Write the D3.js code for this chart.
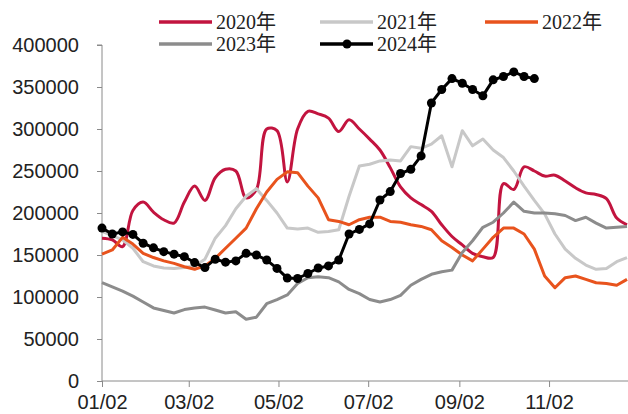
<!DOCTYPE html>
<html lang="zh">
<head>
<meta charset="UTF-8">
<title>2020-2024</title>
<script src="https://d3js.org/d3.v7.min.js"></script>
<style>
  body { margin: 0; background: #fff; }
  .axis path, .axis line { stroke: #8a8a8a; }
  .axis text { font-family: "Liberation Sans", Arial, sans-serif; font-size: 20px; fill: #222; }
  .legend text { font-family: "Liberation Serif", "Noto Sans CJK SC", serif; font-size: 20px; fill: #222; }
</style>
</head>
<body>
<div id="chart"></div>
<script>
// weekly values, first week starts 01/02
var series2020 = [170000,168000,160000,203000,213000,201000,192000,188000,213000,232000,
  215000,242000,252000,250000,218000,228000,300000,298000,237000,300000,
  321000,318000,313000,297000,311000,300000,288000,275000,254000,231000,
  218000,210000,202000,186000,172000,162000,152000,148000,147000,235000,
  228000,255000,250000,244000,245000,238000,230000,224000,222000,217000,
  194000,186000];
var series2021 = [178000,173000,168000,158000,142000,137000,134500,134000,135000,137000,
  145000,170000,185000,205000,220000,229000,215000,200000,182000,181000,
  182000,177000,178000,180000,220000,256000,258000,262000,263000,262000,
  279000,277000,282000,292000,255000,298000,280000,288000,275000,266000,
  250000,232000,215000,199000,175000,157000,146000,138000,133000,134000,
  142000,147000];
var series2022 = [151000,156000,171000,163000,152000,147000,143000,140000,136000,133000,
  137000,146000,158000,170000,182000,205000,225000,240000,249000,248000,
  232000,218000,192000,190000,186000,192000,195000,195000,190000,189000,
  186000,184000,180000,167000,159000,150000,143000,157000,171000,182000,
  182000,175000,157000,125000,111000,123000,125000,121000,117000,116000,
  114000,121000];
var series2023 = [117000,112000,107000,101000,94000,87000,84000,81000,85000,87000,
  88000,84500,81000,82500,73500,76000,92000,97000,102500,116000,
  123000,124000,123000,118000,109000,104000,97000,94000,97000,102000,
  114000,121000,127000,130000,132000,153000,167000,183000,189000,200000,
  213000,202000,200000,200000,199000,197000,191000,195000,188000,182000,
  183000,184000];
var series2024 = [182000,175000,177500,174500,164000,158500,154000,151000,148000,141000,
  135000,145000,141500,143000,152000,150000,144000,134000,122500,122000,
  128000,134500,137000,144000,175000,180500,187000,215500,225500,247000,
  252000,268000,331000,347000,360000,354500,347000,339500,358500,362500,
  368000,362500,360000];

var seriesNames = ["2020年", "2021年", "2022年", "2023年", "2024年"];
var seriesColors = ["#c2143f", "#c8c8c8", "#e8531d", "#8c8c8c", "#000000"];
var yTicks = [0, 50000, 100000, 150000, 200000, 250000, 300000, 350000, 400000];
var xTickLabels = ["01/02", "03/02", "05/02", "07/02", "09/02", "11/02"];

var width = 628, height = 414;
var parse = d3.timeParse("%Y/%m/%d");
var start = parse("2023/01/02");
var weekDate = function(i) { return d3.timeDay.offset(start, 7 * i); };

var svg = d3.select("#chart").append("svg")
  .attr("width", width)
  .attr("height", height);

var x = d3.scaleTime()
  .domain([start, weekDate(51)])
  .range([102, 627]);

var y = d3.scaleLinear()
  .domain([0, 400000])
  .range([381, 45]);

// axes
svg.append("g")
  .attr("class", "axis")
  .attr("transform", "translate(102,0)")
  .call(d3.axisLeft(y).tickValues(yTicks).tickSize(5).tickPadding(18).tickFormat(d3.format("d")))
  .call(function(g) { g.select(".domain").attr("d", "M-5," + y(400000) + "H0V" + y(0)); });

svg.append("g")
  .attr("class", "axis")
  .attr("transform", "translate(0,381)")
  .call(d3.axisBottom(x)
    .tickValues(xTickLabels.map(function(s) { return parse("2023/" + s); }))
    .tickFormat(d3.timeFormat("%m/%d"))
    .tickSize(6).tickPadding(8))
  .call(function(g) { g.select(".domain").attr("d", "M102,0H628"); });

var line = d3.line()
  .x(function(d, i) { return x(weekDate(i)); })
  .y(function(d) { return y(d); });

var allSeries = [series2020, series2021, series2022, series2023, series2024];

allSeries.forEach(function(data, k) {
  svg.append("path")
    .datum(data)
    .attr("fill", "none")
    .attr("stroke", seriesColors[k])
    .attr("stroke-width", 3)
    .attr("stroke-linejoin", "round")
    .attr("d", k === 0 ? line.curve(d3.curveCatmullRom)(data) : line.curve(d3.curveLinear)(data));
});

svg.append("g")
  .selectAll("circle")
  .data(series2024)
  .enter()
  .append("circle")
    .attr("cx", function(d, i) { return x(weekDate(i)); })
    .attr("cy", function(d) { return y(d); })
    .attr("r", 4.5)
    .style("fill", "#000");

// legend
var legendPos = [[159, 22], [320, 22], [485, 22], [159, 44], [320, 44]];
var legend = svg.append("g").attr("class", "legend");
seriesNames.forEach(function(name, k) {
  var p = legendPos[k];
  legend.append("line")
    .attr("x1", p[0]).attr("x2", p[0] + 53)
    .attr("y1", p[1]).attr("y2", p[1])
    .attr("stroke", seriesColors[k])
    .attr("stroke-width", 3.5);
  if (k === 4) {
    legend.append("circle").attr("cx", p[0] + 27).attr("cy", p[1]).attr("r", 4.5).style("fill", "#000");
  }
  legend.append("text")
    .attr("x", p[0] + 57)
    .attr("y", p[1] + 7)
    .text(name);
});
</script>
</body>
</html>
